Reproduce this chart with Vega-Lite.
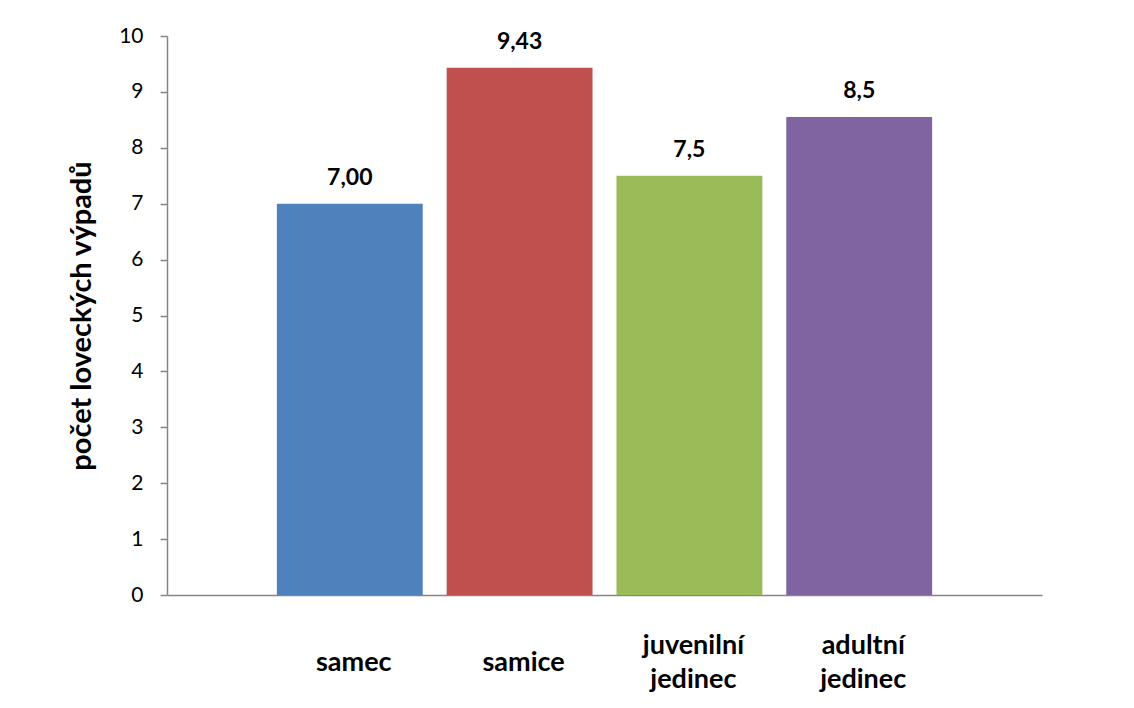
{
  "$schema": "https://vega.github.io/schema/vega-lite/v6.json",
  "autosize": "none",
  "width": 875,
  "height": 559,
  "padding": {"left": 167, "top": 36, "right": 92, "bottom": 113},
  "background": "white",
  "config": {
    "view": {"stroke": null},
    "font": "Lato"
  },
  "data": {
    "values": [
      {"kategorie": "samec", "hodnota": 7.0, "popisek": "7,00"},
      {"kategorie": "samice", "hodnota": 9.43, "popisek": "9,43"},
      {"kategorie": "juvenilní jedinec", "hodnota": 7.5, "popisek": "7,5"},
      {"kategorie": "adultní jedinec", "hodnota": 8.55, "popisek": "8,5"}
    ]
  },
  "encoding": {
    "x": {
      "field": "kategorie",
      "type": "nominal",
      "sort": null,
      "scale": {"paddingInner": 0.141, "paddingOuter": 0.647},
      "axis": {
        "title": null,
        "ticks": false,
        "tickSize": 0,
        "domainColor": "#868686",
        "domainWidth": 1.5,
        "labelAngle": 0,
        "labelFont": "Lato",
        "labelFontWeight": "bold",
        "labelFontSize": 27,
        "labelColor": "black",
        "labelBaseline": "middle",
        "labelLineHeight": 34,
        "labelOffset": 4,
        "labelPadding": {"condition": {"test": "indexof(datum.label, ' ') >= 0", "value": 50}, "value": 67},
        "labelExpr": "split(datum.label, ' ')"
      }
    },
    "y": {
      "field": "hodnota",
      "type": "quantitative",
      "scale": {"domain": [0, 10]},
      "axis": {
        "title": "počet loveckých výpadů",
        "titleFont": "Lato",
        "titleFontSize": 29,
        "titleFontWeight": "bold",
        "titleColor": "black",
        "titlePadding": 22,
        "values": [0, 1, 2, 3, 4, 5, 6, 7, 8, 9, 10],
        "grid": false,
        "domainColor": "#868686",
        "domainWidth": 1.5,
        "tickColor": "#868686",
        "tickWidth": 1.5,
        "tickSize": 7,
        "labelFont": "Lato",
        "labelFontSize": 21,
        "labelColor": "black",
        "labelPadding": 17
      }
    }
  },
  "layer": [
    {
      "mark": {"type": "bar"},
      "encoding": {
        "color": {
          "field": "kategorie",
          "type": "nominal",
          "legend": null,
          "scale": {
            "domain": ["samec", "samice", "juvenilní jedinec", "adultní jedinec"],
            "range": ["#4F81BD", "#C0504D", "#9BBB59", "#8064A2"]
          }
        }
      }
    },
    {
      "mark": {"type": "text", "font": "Lato", "fontWeight": "bold", "fontSize": 23, "baseline": "alphabetic", "dy": -19, "color": "black"},
      "encoding": {
        "text": {"field": "popisek"}
      }
    }
  ]
}
